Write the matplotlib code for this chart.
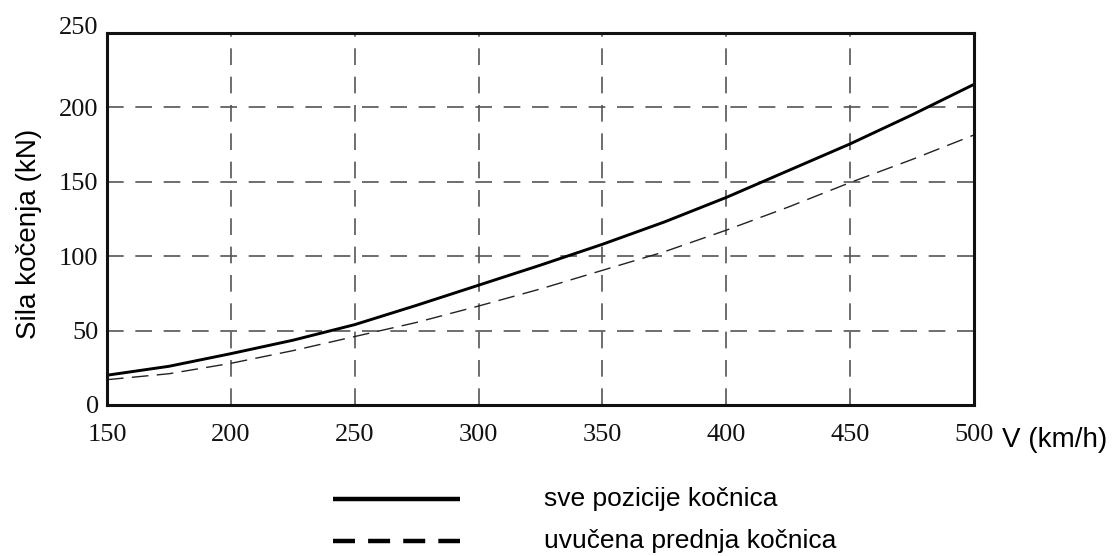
import matplotlib
matplotlib.use("Agg")
import matplotlib.pyplot as plt
from matplotlib.lines import Line2D
from matplotlib.transforms import ScaledTranslation

speed = [150, 175, 200, 225, 250, 275, 300, 325, 350, 375, 400, 425, 450, 475, 500]
all_brakes = [20, 26, 34.5, 43.5, 54, 67, 80.5, 94, 108, 123, 139.5, 157.5, 175.5, 195, 215.5]
front_retracted = [17, 21, 28, 36.5, 46, 55.5, 66.5, 78, 90.5, 103, 117.5, 133, 149.5, 165, 181.5]
x_ticks = [150, 200, 250, 300, 350, 400, 450, 500]
y_ticks = [0, 50, 100, 150, 200, 250]
legend_labels = ["sve pozicije kočnica", "uvučena prednja kočnica"]

fig = plt.figure(figsize=(11.13, 5.56), dpi=100)
ax = fig.add_axes([0.0961, 0.2716, 0.7790, 0.669])

ax.plot(speed, all_brakes, color="black", lw=2.1, solid_capstyle="butt")
ax.plot(speed, front_retracted, color="#222222", lw=1.0, dashes=(12, 6))

ax.set_xlim(150, 500)
ax.set_ylim(0, 250)
ax.set_xticks(x_ticks)
ax.set_yticks(y_ticks)
ax.grid(True, color="#555555", lw=1.2, dashes=(10, 7))
for s in ax.spines.values():
    s.set_linewidth(2.2)
    s.set_color("#111111")
ax.tick_params(length=0, labelsize=19)
ax.tick_params(axis="y", pad=6)
ax.tick_params(axis="x", pad=14)
for lab in ax.get_xticklabels() + ax.get_yticklabels():
    lab.set_family("Liberation Serif")
    lab.set_color("#111111")
top_lab = ax.get_yticklabels()[-1]
top_lab.set_transform(top_lab.get_transform() + ScaledTranslation(0, 8 / 100, fig.dpi_scale_trans))

ax.set_ylabel("Sila kočenja (kN)", family="Liberation Sans", fontsize=20)
ax.yaxis.set_label_coords(-0.075, 0.46)
fig.text(0.900, 0.209, "V (km/h)", family="Liberation Sans", fontsize=20, va="center", ha="left")

# legend
fig.add_artist(Line2D([0.299, 0.413], [0.103, 0.103], color="black", lw=3.2,
                      transform=fig.transFigure, solid_capstyle="butt"))
fig.add_artist(Line2D([0.299, 0.413], [0.027, 0.027], color="black", lw=3.2,
                      dashes=(4.95, 2.95), transform=fig.transFigure, dash_capstyle="butt"))
fig.text(0.489, 0.103, legend_labels[0], family="Liberation Sans", fontsize=19, va="center")
fig.text(0.489, 0.027, legend_labels[1], family="Liberation Sans", fontsize=19, va="center")

fig.savefig("out.png", dpi=100)
